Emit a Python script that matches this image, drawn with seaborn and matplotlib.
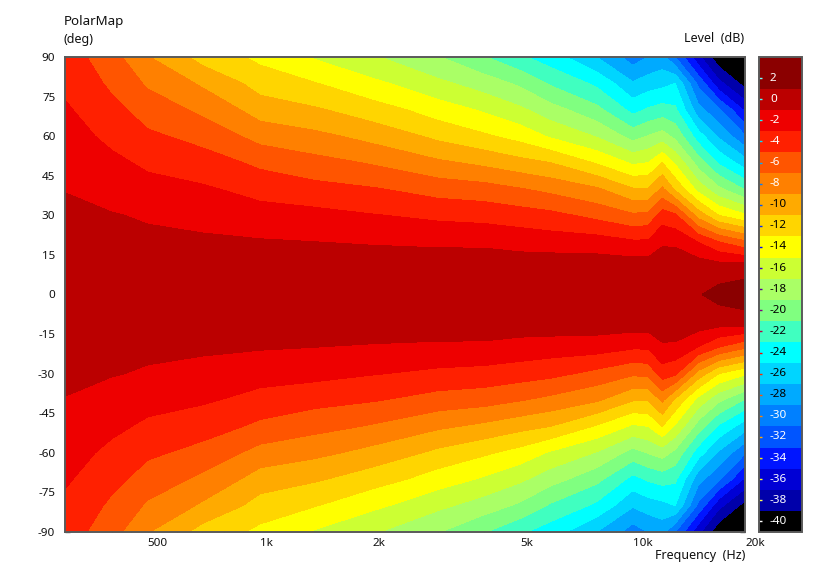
import numpy as np
import seaborn as sns
import matplotlib.pyplot as plt
from matplotlib.colors import ListedColormap, BoundaryNorm, to_rgb

# ── values ────────────────────────────────────────────────────────────────────
freqs = [300, 400, 500, 700, 1000, 1400, 2000, 3000, 4000, 5000,
         6000, 8000, 10000, 11000, 12000, 13000, 15000, 17000, 20000]
angles = [0, 10, 20, 30, 40, 50, 60, 70, 80, 90]

db_300 = [0, -0.1, -0.35, -0.7, -1.05, -1.6, -2.2, -2.75, -3.4, -4.0]
db_400 = [0, -0.15, -0.5, -0.9, -1.7, -2.55, -3.5, -4.4, -5.4, -6.3]
db_500 = [0, -0.2, -0.6, -1.2, -2.3, -3.4, -4.65, -5.9, -7.3, -8.9]
db_700 = [0, -0.25, -0.7, -1.6, -2.75, -4.1, -5.7, -7.45, -9.3, -11.8]
db_1k = [0, -0.3, -0.85, -2.2, -3.7, -5.45, -7.75, -9.95, -11.85, -13.5]
db_1k4 = [0, -0.2, -1.0, -2.4, -4.35, -6.35, -8.5, -10.75, -12.9, -15.2]
db_2k = [0, 0.3, -1.2, -2.9, -4.85, -7.2, -9.7, -12.1, -14.55, -16.8]
db_3k = [0, 0.33, -1.4, -3.45, -5.85, -8.65, -11.5, -14.0, -16.55, -18.9]
db_4k = [0, 0.4, -1.45, -3.7, -6.2, -9.5, -12.7, -15.3, -18.0, -20.9]
db_5k = [0, 0.2, -1.75, -4.1, -6.9, -10.35, -13.8, -16.65, -19.4, -22.7]
db_6k = [0, 0.36, -2.0, -4.45, -7.55, -11.0, -15.25, -18.2, -21.25, -24.1]
db_8k = [0, 0.29, -2.1, -5.6, -8.75, -13.25, -17.15, -20.45, -23.45, -27.0]
db_10k = [0, 0.28, -2.75, -6.7, -10.85, -15.35, -19.8, -23.65, -26.8, -30.0]
db_11k = [0, 0.28, -2.75, -6.45, -10.9, -15.0, -18.9, -22.75, -26.0, -29.0]
db_12k = [0, 0.68, -1.4, -4.0, -8.65, -13.0, -18.15, -22.2, -25.6, -28.3]
db_13k = [0.4, 0.7, -1.45, -4.65, -11.4, -15.3, -19.55, -22.65, -25.0, -31.0]
db_15k = [0.9, 0.31, -3.1, -9.85, -15.75, -20.0, -24.1, -28.3, -31.5, -36.5]
db_17k = [1.5, 0.2, -5.0, -13.0, -18.6, -23.3, -27.3, -30.7, -36.4, -40.5]
db_20k = [1.9, 0.36, -6.7, -14.7, -21.2, -26.1, -30.8, -35.4, -39.8, -40.9]

freq_ticks = [350, 400, 450, 500, 600, 700, 800, 900, 1000, 1500, 2000, 2500, 3000,
              3500, 4000, 4500, 5000, 6000, 7000, 8000, 9000, 10000, 15000]
freq_labels = ["500", "1k", "2k", "5k", "10k", "20k"]
freq_label_pos = [500, 1000, 2000, 5000, 10000, 20000]
angle_ticks = [90, 75, 60, 45, 30, 15, 0, -15, -30, -45, -60, -75, -90]
level_ticks = [2, 0, -2, -4, -6, -8, -10, -12, -14, -16, -18, -20,
               -22, -24, -26, -28, -30, -32, -34, -36, -38, -40]

# one colour per 2 dB band, -40 up to +2
band_colors = ["#000000", "#0000aa", "#0000d5", "#0015ff", "#0055ff", "#0080ff",
               "#00aaff", "#00d5ff", "#00ffff", "#40ffc0", "#80ff80", "#aaff66",
               "#ccff33", "#ffff00", "#ffd500", "#ffaa00", "#ff8000", "#ff5500",
               "#ff2000", "#ee0000", "#bb0000", "#8b0000"]
level_edges = [-41, -39, -37, -35, -33, -31, -29, -27, -25, -23, -21, -19,
               -17, -15, -13, -11, -9, -7, -5, -3, -1, 1, 4]

# ── the response is symmetric, so mirror 0..90 onto -90..0 ────────────────────
half = np.array([db_300, db_400, db_500, db_700, db_1k, db_1k4, db_2k, db_3k, db_4k,
                 db_5k, db_6k, db_8k, db_10k, db_11k, db_12k, db_13k, db_15k,
                 db_17k, db_20k]).T
grid = np.vstack((half[:0:-1], half))
theta = np.concatenate((-np.array(angles[:0:-1]), angles))

sns.set_theme(style="white")
plt.rcParams["font.family"] = ["Noto Sans", "DejaVu Sans"]
FRAME = "#5a5a5a"
INK = "#111111"
NUM_SIZE = 8.4
TXT_SIZE = 9

W, H = 816, 567
fig = plt.figure(figsize=(W / 100, H / 100), dpi=100)
ax = fig.add_axes([65 / W, 1 - 532 / H, 680 / W, 475 / H])
cax = fig.add_axes([759 / W, 1 - 532 / H, 43 / W, 475 / H])

cmap = ListedColormap(band_colors)
norm = BoundaryNorm(level_edges, cmap.N)
cf = ax.contourf(freqs, theta, grid, levels=level_edges, cmap=cmap, norm=norm,
                 antialiased=False)

ax.set_xscale("log")
ax.set_xlim(300, 20000)
ax.set_ylim(-90, 90)
ax.set_xticks(freq_ticks)
ax.set_xticklabels([])
ax.minorticks_off()
ax.set_yticks(angle_ticks)
ax.set_yticklabels([str(a) for a in angle_ticks], color=INK)
ax.tick_params(axis="both", which="both", direction="in", length=3.5, width=1,
               color=FRAME, top=True, right=True, bottom=True, left=True)
ax.tick_params(axis="y", pad=7, labelsize=NUM_SIZE)
for side in ax.spines.values():
    side.set_color(FRAME)
    side.set_linewidth(1.4)

# frequency labels sit to the right of their tick
for f, lab in zip(freq_label_pos, freq_labels):
    ax.annotate(lab, xy=(f, 0), xycoords=("data", "axes fraction"), xytext=(0, -11),
                textcoords="offset pixels", ha="left", va="center", fontsize=NUM_SIZE,
                color=INK, annotation_clip=False)

# ── colour bar ────────────────────────────────────────────────────────────────
cbar = fig.colorbar(cf, cax=cax, spacing="proportional")
cbar.set_ticks([])
cbar.ax.minorticks_off()
cbar.outline.set_edgecolor(FRAME)
cbar.outline.set_linewidth(1.4)
for lv in level_ticks:
    rgb = np.array(to_rgb(band_colors[(lv + 40) // 2]))
    cax.hlines(lv, 0, 0.08, color=1 - rgb, linewidth=1,
               transform=cax.get_yaxis_transform())
    txt_col = "white" if lv >= -8 or lv <= -30 else "black"
    cax.annotate(str(lv), xy=(0, lv), xycoords=("axes fraction", "data"), xytext=(11, 0),
                 textcoords="offset pixels", ha="left", va="center", fontsize=NUM_SIZE,
                 color=txt_col)

# ── titles ────────────────────────────────────────────────────────────────────
fig.text(64 / W, 1 - 21 / H, "PolarMap", fontsize=9.6, color=INK, va="center")
fig.text(64 / W, 1 - 39 / H, "(deg)", fontsize=TXT_SIZE, color=INK, va="center")
fig.text(744 / W, 1 - 38 / H, "Level  (dB)", fontsize=TXT_SIZE, color=INK, va="center", ha="right")
fig.text(745 / W, 1 - 556 / H, "Frequency  (Hz)", fontsize=TXT_SIZE, color=INK, va="center", ha="right")

fig.savefig("out.png", dpi=100)
